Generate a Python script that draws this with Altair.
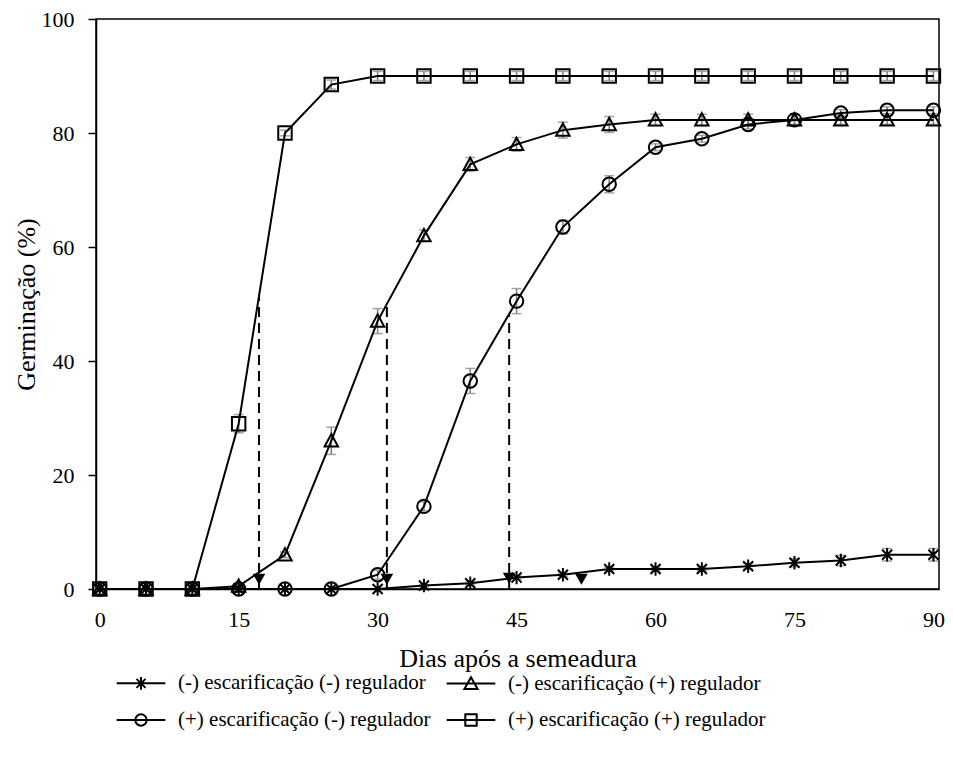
import altair as alt
import pandas as pd

# ---- data ----
days = [0, 5, 10, 15, 20, 25, 30, 35, 40, 45, 50, 55, 60, 65, 70, 75, 80, 85, 90]

names = [
    "(-) escarificação (-) regulador",
    "(-) escarificação (+) regulador",
    "(+) escarificação (-) regulador",
    "(+) escarificação (+) regulador",
]

s_mm = [0, 0, 0, 0, 0, 0, 0, 0.6, 1.0, 2.0, 2.5, 3.5, 3.5, 3.5, 4.0, 4.6, 5.0, 6.0, 6.0]
e_mm = [0, 0, 0, 0, 0, 0, 0, 0.2, 0.3, 0.3, 0.3, 0.3, 0.3, 0.3, 0.5, 0.7, 0.9, 1.1, 1.1]

s_mp = [0, 0, 0, 0.5, 6.0, 26.0, 47.0, 62.0, 74.5, 78.0, 80.5, 81.5, 82.3, 82.3, 82.3, 82.3, 82.3, 82.3, 82.3]
e_mp = [0, 0, 0, 0.3, 0.5, 2.4, 2.2, 1.0, 1.2, 1.2, 1.4, 1.4, 1.0, 1.0, 1.0, 1.0, 0.8, 0.8, 0.8]

s_pm = [0, 0, 0, 0, 0, 0, 2.5, 14.5, 36.5, 50.5, 63.5, 71.0, 77.5, 79.0, 81.5, 82.3, 83.5, 84.0, 84.0]
e_pm = [0, 0, 0, 0, 0, 0, 0.8, 0.8, 2.2, 2.2, 1.2, 1.5, 0.6, 0.6, 0.8, 0.8, 0.6, 0.6, 0.6]

s_pp = [0, 0, 0, 29.0, 80.0, 88.5, 90, 90, 90, 90, 90, 90, 90, 90, 90, 90, 90, 90, 90]
e_pp = [0, 0, 0, 1.6, 0.5, 0.8, 0.8, 0.8, 0.8, 0.8, 0.8, 0.8, 0.8, 0.8, 0.8, 0.8, 0.8, 0.8, 0.8]

# T50 markers and guide lines
t50_x = [17.2, 31.0, 44.2, 52.0]
t50_y = [1.7, 1.7, 1.9, 1.7]
guide_x = [17.2, 31.0, 44.2]
guide_top = [51.5, 50.0, 48.2]

x_ticks = [0, 15, 30, 45, 60, 75, 90]
y_ticks = [0, 20, 40, 60, 80, 100]

# ---- build tables ----
rows = []
for name, vals, errs in zip(names, [s_mm, s_mp, s_pm, s_pp], [e_mm, e_mp, e_pm, e_pp]):
    for d, v, e in zip(days, vals, errs):
        rows.append({"serie": name, "dia": d, "germ": v, "lo": v - e, "hi": v + e, "err": e})
df = pd.DataFrame(rows)
df_err = df[df["err"] > 0]

df_t50 = pd.DataFrame({"dia": t50_x, "germ": t50_y})
df_guide = pd.DataFrame({"dia": guide_x, "top": guide_top, "base": [0] * len(guide_x)})

FONT = "Liberation Serif"

# marker-only shapes (plot) and line+marker shapes (legend)
star = "M-0.75,-0.75L0.75,0.75M-0.75,0.75L0.75,-0.75M0,-1L0,1"
tri = "M0,-1L1,0.85L-1,0.85Z"
circ = "M1,0A1,1 0 1,1 -1,0A1,1 0 1,1 1,0Z"
sq = "M-1,-1L1,-1L1,1L-1,1Z"
plot_shapes = [star, tri, circ, sq]

leg_star = "M-1.62,0L1.62,0M-0.3,-0.3L0.3,0.3M-0.3,0.3L0.3,-0.3M0,-0.42L0,0.42"
leg_tri = "M-1.62,0L1.62,0M0,-0.42L0.44,0.36L-0.44,0.36Z"
leg_circ = "M-1.62,0L1.62,0M0.38,0A0.38,0.38 0 1,1 -0.38,0A0.38,0.38 0 1,1 0.38,0Z"
leg_sq = "M-1.62,0L1.62,0M-0.38,-0.38L0.38,-0.38L0.38,0.38L-0.38,0.38Z"
legend_shapes = [leg_star, leg_tri, leg_circ, leg_sq]

xscale = alt.Scale(domain=[-0.4, 90.6], nice=False, zero=False)
yscale = alt.Scale(domain=[0, 100], nice=False)

xenc = alt.X("dia:Q", scale=xscale,
             axis=alt.Axis(values=x_ticks, title="Dias após a semeadura", ticks=False, tickSize=0,
                           labelPadding=20, titlePadding=15, grid=False))
yenc = alt.Y("germ:Q", scale=yscale,
             axis=alt.Axis(values=y_ticks, title="Germinação (%)", tickSize=8, labelPadding=14,
                           titlePadding=2, grid=False))

base = alt.Chart(df)

err_rule = alt.Chart(df_err).mark_rule(color="#7f7f7f", strokeWidth=1.5).encode(
    x=alt.X("dia:Q", scale=xscale), y=alt.Y("lo:Q", scale=yscale), y2="hi:Q")
err_cap_lo = alt.Chart(df_err).mark_tick(color="#7f7f7f", orient="horizontal", size=10, thickness=1.5).encode(
    x=alt.X("dia:Q", scale=xscale), y=alt.Y("lo:Q", scale=yscale))
err_cap_hi = alt.Chart(df_err).mark_tick(color="#7f7f7f", orient="horizontal", size=10, thickness=1.5).encode(
    x=alt.X("dia:Q", scale=xscale), y=alt.Y("hi:Q", scale=yscale))

lines = base.mark_line(color="black", strokeWidth=2).encode(
    x=xenc, y=yenc, detail="serie:N", order="dia:Q")

points = base.mark_point(filled=False, color="black", strokeWidth=2, size=180, opacity=1).encode(
    x=alt.X("dia:Q", scale=xscale), y=alt.Y("germ:Q", scale=yscale),
    shape=alt.Shape("serie:N", scale=alt.Scale(domain=names, range=plot_shapes), legend=None))

legend_layer = base.mark_point(filled=False, color="black", strokeWidth=2, size=900, opacity=1).encode(
    x=alt.X("dia:Q", scale=xscale), y=alt.Y("germ:Q", scale=yscale),
    shape=alt.Shape("serie:N", scale=alt.Scale(domain=names, range=legend_shapes),
                    legend=alt.Legend(title=None, orient="none", legendX=29, legendY=648,
                                      columns=2, direction="horizontal",
                                      symbolSize=900, symbolStrokeWidth=2,
                                      symbolStrokeColor="black", symbolFillColor="transparent",
                                      labelFont=FONT, labelFontSize=21, labelColor="black",
                                      labelOffset=21, rowPadding=10, columnPadding=11,
                                      labelLimit=0))
).transform_filter("false")

guides = alt.Chart(df_guide).mark_rule(color="black", strokeWidth=2, strokeDash=[10, 6]).encode(
    x=alt.X("dia:Q", scale=xscale), y=alt.Y("base:Q", scale=yscale), y2="top:Q")

t50 = alt.Chart(df_t50).mark_point(shape="triangle-down", filled=True, color="black", size=160, opacity=1).encode(
    x=alt.X("dia:Q", scale=xscale), y=alt.Y("germ:Q", scale=yscale))

chart = alt.layer(err_rule, err_cap_lo, err_cap_hi, lines, points, legend_layer, guides, t50).resolve_scale(
    shape="independent").resolve_legend(shape="independent").properties(
    width=843, height=570,
    background="white",
    autosize=alt.AutoSizeParams(type="none"),
    padding={"left": 88, "top": 11, "right": 6, "bottom": 176},
).configure_view(stroke="black", strokeWidth=1.5).configure_axis(
    labelFont=FONT, titleFont=FONT, labelFontSize=22, titleFontSize=26,
    labelColor="black", titleColor="black", domainColor="black", domainWidth=1.5,
    tickColor="black", tickWidth=1.5, titleFontWeight="normal"
).configure_legend(labelFont=FONT, labelFontSize=21, labelColor="black")

chart.save("out.html", embed_options={"renderer": "svg", "actions": False})
